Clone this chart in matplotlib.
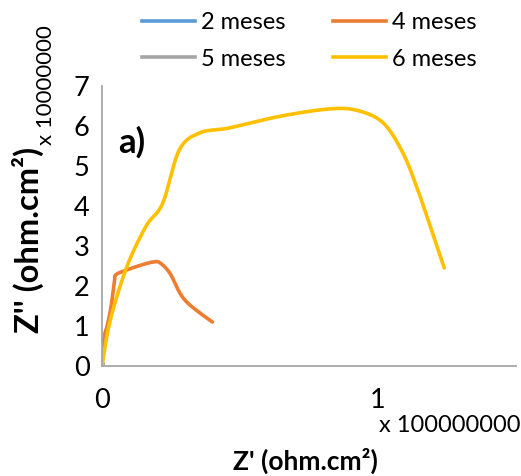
import matplotlib
matplotlib.use("Agg")
import matplotlib.pyplot as plt
from matplotlib.lines import Line2D
import numpy as np

plt.rcParams['font.family'] = ['Lato', 'DejaVu Sans']

series_names = ["2 meses", "4 meses", "5 meses", "6 meses"]
colors = ["#5B9BD5", "#ED7D31", "#A5A5A5", "#FFC000"]

# Z' (x 1e8) and Z'' (x 1e7)
x_2m = [0.0, 0.002, 0.004]
y_2m = [0.0, 0.03, 0.05]
x_5m = [0.0, 0.002, 0.004]
y_5m = [0.0, 0.04, 0.07]
x_4m = [0.0, 0.010, 0.018, 0.032, 0.045, 0.050, 0.090,
        0.140, 0.185, 0.210, 0.246, 0.280, 0.307, 0.350, 0.400]
y_4m = [0.40, 0.80, 0.98, 1.45, 2.10, 2.28, 2.40,
        2.52, 2.60, 2.58, 2.32, 1.85, 1.60, 1.35, 1.10]
x_6m = [0.0, 0.030, 0.090, 0.160, 0.220, 0.280, 0.355, 0.460, 0.650, 0.830,
        0.930, 1.020, 1.090, 1.140, 1.190, 1.240]
y_6m = [0.0, 1.15, 2.48, 3.50, 4.07, 5.40, 5.83, 5.95, 6.25, 6.43,
        6.38, 6.07, 5.33, 4.48, 3.48, 2.45]

xs = [x_2m, x_4m, x_5m, x_6m]
ys = [y_2m, y_4m, y_5m, y_6m]


def smooth(x, y, n=20):
    """Catmull-Rom rendering through the given points (like Excel smoothed lines)."""
    x = np.asarray(x, float)
    y = np.asarray(y, float)
    if len(x) < 3:
        return x, y
    px = np.concatenate([[x[0]], x, [x[-1]]])
    py = np.concatenate([[y[0]], y, [y[-1]]])
    ox, oy = [], []
    t = np.linspace(0, 1, n, endpoint=False)
    for i in range(1, len(px) - 2):
        for arr, out in ((px, ox), (py, oy)):
            p0, p1, p2, p3 = arr[i - 1], arr[i], arr[i + 1], arr[i + 2]
            out.extend(0.5 * ((2 * p1) + (-p0 + p2) * t + (2 * p0 - 5 * p1 + 4 * p2 - p3) * t ** 2
                              + (-p0 + 3 * p1 - 3 * p2 + p3) * t ** 3))
    ox.append(x[-1])
    oy.append(y[-1])
    return np.array(ox), np.array(oy)


fig = plt.figure(figsize=(5.21, 4.76), dpi=100)
ax = fig.add_axes([102/521, 1-366/476, 414/521, 280/476])

for xv, yv, c in zip(xs, ys, colors):
    sx, sy = smooth(xv, yv)
    ax.plot(sx, sy, color=c, lw=2.6, solid_capstyle='round', solid_joinstyle='round')

ax.set_xlim(0, 1.5)
ax.set_ylim(0, 7)
ax.set_xticks([0, 1])
ax.set_yticks(range(0, 8))
for s in ['top', 'right']:
    ax.spines[s].set_visible(False)
for s in ['left', 'bottom']:
    ax.spines[s].set_color('#A6A6A6')
    ax.spines[s].set_linewidth(1.3)
ax.tick_params(length=0, labelsize=19.5)
ax.tick_params(axis='x', pad=16)
ax.tick_params(axis='y', pad=9)

ax.text(0.040, 0.80, "a)", transform=ax.transAxes, fontsize=25, fontweight='bold', va='center', ha='left')

fig.text(305/521, 1-461/476, "Z' (ohm.cm²)", ha='center', va='center', fontsize=19, fontweight='bold')
fig.text(379/521, 1-425/476, "x 100000000", ha='left', va='center', fontsize=17)
fig.text(28/521, 1-240/476, "Z'' (ohm.cm²)", ha='center', va='center', fontsize=23.5, fontweight='bold', rotation=90)
fig.text(46/521, 1-145/476, "x 10000000", ha='center', va='bottom', fontsize=16, rotation=90)

order = [0, 2, 1, 3]
handles = [Line2D([0], [0], color=colors[i], lw=2.6) for i in order]
labels = [series_names[i] for i in order]
fig.legend(handles, labels, loc='center', bbox_to_anchor=(309/521, 1-41/476), ncol=2,
           frameon=False, fontsize=17, handlelength=2.25, handletextpad=0.25,
           columnspacing=2.0, labelspacing=0.65)

fig.savefig("out.png", dpi=100)
